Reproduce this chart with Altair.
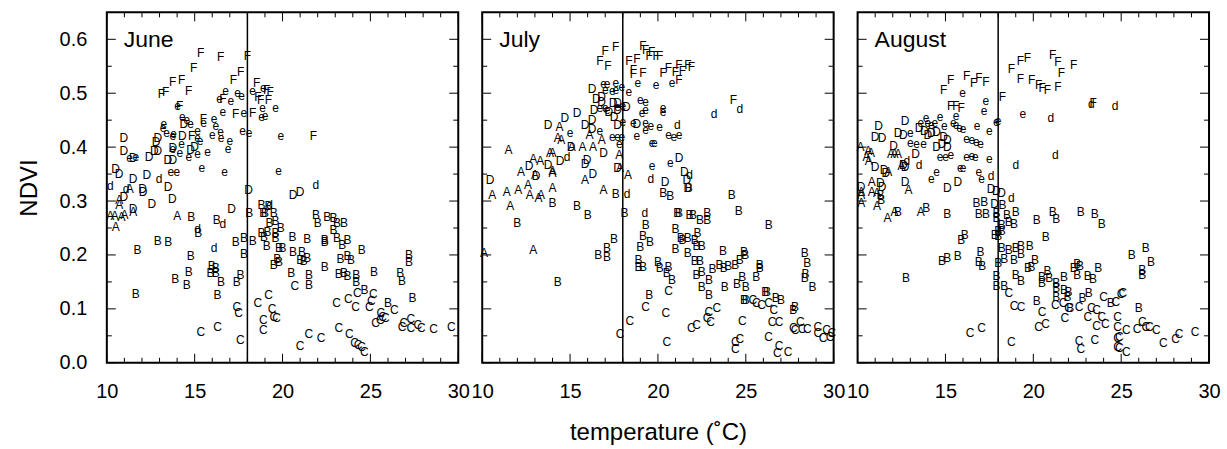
import altair as alt
import pandas as pd

FONT = "Liberation Sans"
TICK_LABELS_X = [10, 15, 20, 25, 30]
TICK_LABELS_Y = [0.0, 0.1, 0.2, 0.3, 0.4, 0.5, 0.6]
MONTHS = ["June", "July", "August"]
THRESHOLD = 18

# ---------------- June ----------------
JUNE_F = [(15.34,.574),(16.48,.567),(18.0,.569),(14.94,.546),(17.61,.539),(13.75,.52),(14.26,.524),(17.2,.524),
          (14.66,.504),(13.1,.498),(13.35,.502),(18.52,.519),(16.6,.489),(18.6,.493),(18.75,.487),(19.1,.506),
          (19.3,.502),(19.2,.487),(14.15,.476),(15.5,.452),(17.33,.461),(18.3,.463),(14.83,.42),(21.76,.42)]
JUNE_E = [(16.76,.504),(17.44,.5),(17.67,.494),(17.05,.485),(16.42,.489),(18.3,.504),(18.9,.509),(18.86,.472),
          (19.6,.472),(18.8,.456),(19.0,.457),(14.03,.476),(17.8,.463),(16.6,.465),(14.3,.456),(14.55,.45),
          (14.77,.443),(15.5,.444),(16.1,.452),(16.2,.439),(13.24,.443),(13.2,.435),(13.4,.426),(13.75,.42),
          (13.8,.424),(15.17,.43),(16.0,.422),(16.48,.428),(16.5,.417),(17.73,.43),(18.1,.426),(17.0,.411),
          (16.9,.396),(15.17,.417),(15.3,.411),(14.26,.406),(14.15,.389),(13.75,.396),(14.66,.381),(15.17,.387),
          (15.74,.391),(13.64,.354),(13.98,.354),(15.4,.361),(16.7,.354),(19.9,.42),(19.77,.356),(11.65,.381),
          (11.3,.38)]
JUNE_D = [(10.97,.417),(10.97,.393),(11.5,.38),(12.4,.381),(12.7,.393),(12.9,.393),(12.8,.409),(12.9,.417),
          (13.75,.398),(13.47,.376),(13.75,.376),(14.38,.443),(14.3,.42),(14.77,.394),(15.0,.4),(10.5,.359),
          (10.7,.35),(11.5,.34),(12.27,.348),(12.03,.323),(12.06,.317),(13.48,.326),(10.97,.307),(18.07,.32),
          (20.6,.311),(21.0,.317),(13.73,.304),(12.56,.294),(17.1,.285),(11.5,.285)]
JUNE_d = [(12.97,.341),(21.9,.33),(10.2,.328),(11.1,.322),(15.17,.248),(16.1,.213),(16.6,.257),(19.26,.293)]
JUNE_A = [(10.7,.302),(10.7,.293),(10.2,.272),(10.45,.272),(10.83,.271),(11.0,.274),(11.5,.28),(10.5,.252),
          (14.0,.272),(11.3,.322)]
JUNE_B = [(14.8,.27),(16.25,.265),(12.9,.226),(13.5,.224),(11.75,.209),(15.2,.241),(14.77,.198),(17.33,.224),
          (17.8,.231),(17.8,.202),(18.3,.226),(14.66,.168),(15.97,.18),(16.2,.176),(15.9,.167),(16.2,.167),
          (13.9,.156),(14.55,.144),(16.5,.15),(17.4,.15),(17.6,.163),(11.65,.128),(16.3,.126),(18.1,.278),
          (18.8,.293),(18.9,.278),(19.2,.29),(19.5,.278),(19.0,.278),(19.26,.259),(19.6,.263),(19.9,.25),
          (18.8,.24),(19.15,.243),(18.95,.233),(19.6,.24),(19.6,.231),(19.1,.217),(19.8,.213),(20.0,.213),
          (19.7,.193),(19.5,.181),(19.8,.187),(20.57,.233),(21.4,.23),(20.6,.206),(21.1,.206),(21.0,.191),
          (21.2,.189),(21.4,.194),(20.5,.167),(21.5,.163),(21.5,.144),(21.9,.274),(22.0,.259),(22.55,.27),
          (22.9,.269),(23.1,.259),(23.5,.259),(22.9,.246),(22.4,.228),(22.4,.224),(23.1,.231),(23.4,.219),
          (23.7,.228),(22.4,.178),(23.3,.193),(23.7,.198),(23.9,.191),(23.2,.165),(23.5,.167),(23.7,.161),
          (24.2,.163),(24.2,.15),(24.5,.209),(25.2,.169),(24.66,.135),(26.0,.111),(26.7,.167),(27.2,.2),
          (27.2,.187),(26.8,.152),(27.4,.12)]
JUNE_C = [(17.4,.104),(17.5,.093),(15.35,.057),(16.3,.067),(17.6,.043),(18.6,.111),(19.2,.126),(19.4,.1),
          (18.9,.08),(19.5,.085),(19.66,.083),(18.9,.061),(20.7,.143),(21.0,.031),(21.5,.054),(22.2,.046),
          (23.07,.111),(23.2,.065),(23.8,.054),(24.1,.037),(24.3,.033),(24.5,.03),(24.66,.02),(23.75,.119),
          (24.26,.13),(24.15,.104),(24.94,.104),(25.06,.115),(25.17,.128),(25.3,.074),(25.57,.08),(25.7,.085),
          (25.85,.083),(25.6,.093),(26.36,.098),(26.8,.067),(26.9,.074),(27.3,.065),(27.3,.081),(27.7,.07),
          (27.9,.065),(28.6,.063),(29.6,.067)]

# ---------------- July ----------------
JULY_F = [(17.0,.578),(17.6,.585),(16.7,.559),(17.16,.55),(19.15,.587),(19.3,.581),(19.65,.576),(19.5,.569),
          (19.9,.569),(20.1,.569),(18.35,.559),(18.8,.563),(18.6,.543),(18.6,.535),(19.15,.537),(20.3,.537),
          (20.6,.546),(21.0,.539),(21.2,.552),(21.4,.541),(21.7,.552),(21.9,.548),(21.2,.524),(24.3,.487)]
JULY_E = [(16.9,.517),(17.1,.517),(17.6,.519),(17.0,.506),(17.4,.504),(17.6,.506),(17.95,.511),(18.35,.502),
          (18.86,.519),(19.9,.515),(20.8,.519),(19.0,.487),(19.3,.483),(19.1,.463),(19.3,.469),(20.3,.472),
          (20.3,.465),(16.7,.472),(17.0,.472),(17.1,.469),(17.7,.474),(18.0,.476),(18.0,.446),(18.6,.444),
          (19.3,.444),(19.3,.431),(19.6,.439),(20.1,.437),(20.6,.422),(20.9,.419),(21.2,.422),(17.4,.419),
          (17.7,.419),(17.95,.419),(17.8,.406),(16.7,.43),(15.0,.426),(18.8,.42),(19.66,.407),(19.8,.407),
          (19.66,.365),(20.7,.37)]
JULY_D = [(16.25,.507),(16.5,.489),(16.8,.493),(16.8,.483),(17.2,.465),(17.45,.481),(17.7,.481),(17.7,.469),
          (18.2,.474),(16.36,.469),(16.25,.45),(17.5,.456),(17.7,.441),(18.8,.443),(15.4,.463),(14.7,.454),
          (13.75,.441),(15.85,.441),(16.25,.433),(16.9,.389),(15.85,.369),(15.97,.376),(14.43,.374),(12.67,.365),
          (13.75,.367),(13.07,.346),(16.3,.35),(17.7,.361),(21.2,.38),(21.5,.354),(20.4,.335),(10.45,.339),
          (15.06,.4),(21.65,.339),(21.7,.324)]
JULY_d = [(23.2,.461),(24.66,.47),(21.1,.441),(14.83,.381),(19.6,.341),(21.8,.348),(18.24,.313),(19.26,.278)]
JULY_A = [(11.5,.394),(14.4,.437),(14.3,.417),(14.5,.413),(13.86,.39),(14.0,.39),(15.1,.4),(15.7,.4),(16.3,.4),
          (16.8,.413),(16.1,.422),(12.9,.378),(13.3,.374),(14.0,.356),(14.0,.352),(12.2,.354),(13.0,.348),
          (15.85,.339),(17.8,.385),(17.84,.361),(18.3,.348),(10.57,.311),(11.4,.317),(12.05,.32),(12.6,.33),
          (12.7,.311),(13.35,.311),(14.0,.324),(16.9,.32),(13.2,.306),(11.6,.291),(12.9,.209),(10.1,.204)]
JULY_B = [(17.6,.313),(14.0,.296),(15.4,.291),(16.0,.274),(12.0,.259),(14.3,.15),(17.5,.23),(17.1,.213),
          (17.1,.196),(16.6,.2),(18.1,.278),(20.3,.315),(20.7,.309),(21.75,.324),(24.2,.311),(24.6,.281),
          (19.3,.256),(19.15,.235),(19.0,.215),(19.55,.224),(18.9,.191),(18.9,.178),(19.15,.178),(19.5,.126),
          (20.0,.187),(20.1,.176),(20.6,.178),(20.5,.167),(20.8,.154),(21.0,.248),(21.0,.211),(21.1,.278),
          (21.2,.278),(21.8,.274),(22.0,.274),(22.4,.265),(22.8,.278),(22.8,.265),(21.3,.231),(21.7,.231),
          (21.4,.228),(22.1,.228),(22.25,.24),(22.2,.217),(22.5,.217),(21.7,.204),(22.1,.189),(22.4,.189),
          (22.2,.163),(22.5,.168),(22.9,.154),(22.9,.126),(22.5,.141),(23.1,.174),(23.7,.207),(23.5,.181),
          (23.75,.176),(24.0,.18),(24.4,.181),(23.8,.141),(24.5,.146),(24.8,.159),(25.0,.141),(24.66,.191),
          (24.9,.206),(24.97,.2),(25.0,.117),(24.9,.117),(25.6,.159),(25.8,.181),(25.8,.176),(26.1,.131),
          (26.3,.256),(26.2,.131),(26.7,.12),(27.0,.117),(28.35,.204),(28.5,.185),(28.4,.165),(28.35,.157),
          (28.8,.141),(27.8,.104),(27.7,.098)]
JULY_C = [(17.84,.054),(18.4,.078),(19.3,.104),(20.45,.093),(20.5,.039),(20.6,.133),(21.9,.065),(22.2,.07),
          (22.9,.094),(22.8,.083),(23.0,.076),(23.35,.102),(24.4,.039),(24.4,.026),(24.66,.044),(24.8,.078),
          (25.4,.117),(25.6,.111),(25.9,.107),(26.3,.111),(26.6,.098),(26.5,.076),(26.9,.076),(26.3,.048),
          (26.9,.031),(26.8,.019),(27.4,.02),(27.7,.065),(27.8,.061),(28.1,.076),(28.2,.063),(28.5,.063),
          (29.1,.067),(29.1,.056),(29.6,.061),(29.4,.046),(29.8,.048),(29.9,.056)]

# ---------------- August ----------------
AUG_F = [(18.75,.544),(19.26,.559),(19.66,.565),(21.1,.57),(21.4,.557),(22.3,.552),(21.6,.537),(19.26,.526),
         (19.9,.524),(20.3,.515),(20.5,.509),(20.8,.506),(21.4,.511),(18.24,.493),(23.4,.481),(14.9,.506),
         (15.3,.524),(16.2,.531),(16.6,.519),(16.9,.529),(17.3,.52),(15.3,.476),(15.6,.476),(15.9,.472)]
AUG_E = [(15.97,.5),(17.3,.485),(17.2,.467),(19.4,.461),(17.9,.446),(17.5,.43),(16.8,.439),(15.6,.457),
         (14.7,.456),(13.9,.454),(13.6,.444),(14.0,.444),(14.2,.441),(14.4,.444),(14.94,.439),(15.45,.444),
         (15.6,.441),(15.8,.435),(16.0,.433),(16.2,.415),(16.5,.413),(16.76,.409),(17.0,.406),(13.0,.407),
         (13.35,.406),(13.75,.406),(14.7,.381),(15.0,.381),(15.3,.385),(16.2,.381),(16.5,.383),(16.7,.381),
         (17.5,.378),(15.85,.361),(16.0,.361),(16.9,.354),(17.05,.341),(14.5,.354),(14.2,.341),(18.0,.448),
         (13.0,.426)]
AUG_D = [(11.2,.439),(11.0,.419),(11.4,.417),(12.7,.448),(12.3,.426),(12.6,.422),(13.5,.435),(13.8,.43),
         (14.0,.422),(14.2,.426),(14.5,.428),(14.5,.4),(14.8,.406),(15.1,.4),(14.9,.419),(15.1,.413),(12.05,.402),
         (13.3,.387),(12.6,.367),(12.7,.363),(11.0,.363),(11.5,.357),(11.6,.352),(11.3,.333),(11.4,.326),
         (12.7,.335),(15.7,.335),(15.1,.324),(17.6,.322),(17.9,.319),(10.2,.326),(18.2,.315),(17.8,.294)]
AUG_d = [(21.0,.454),(21.25,.385),(19.0,.367),(17.6,.346),(13.5,.367),(12.8,.374),(24.66,.476),(23.3,.48),
         (18.75,.306)]
AUG_A = [(10.17,.4),(10.6,.393),(10.76,.389),(10.5,.381),(10.63,.374),(11.9,.387),(12.1,.387),(12.3,.387),
         (12.5,.365),(11.75,.354),(10.8,.335),(12.9,.32),(10.2,.317),(10.8,.317),(11.1,.315),(10.2,.311),
         (10.2,.296),(11.1,.291),(11.7,.269),(12.1,.28),(13.6,.28)]
AUG_B = [(11.3,.311),(11.35,.302),(12.3,.28),(13.9,.287),(15.1,.276),(16.76,.296),(17.2,.298),(16.9,.276),
         (17.3,.276),(18.24,.293),(17.9,.278),(17.9,.269),(18.5,.274),(18.6,.261),(18.2,.256),(18.9,.257),
         (18.2,.244),(18.0,.244),(17.8,.237),(18.0,.235),(19.0,.28),(20.2,.265),(21.1,.28),(21.3,.267),
         (22.7,.28),(23.5,.276),(23.9,.257),(20.7,.233),(15.9,.228),(16.1,.237),(18.2,.213),(18.6,.209),
         (19.0,.213),(19.3,.217),(19.8,.217),(18.35,.193),(18.9,.191),(19.3,.202),(18.0,.185),(20.1,.191),
         (19.7,.176),(19.9,.178),(17.0,.206),(16.9,.187),(17.1,.18),(15.7,.198),(14.8,.189),(15.1,.194),
         (12.75,.157),(17.9,.161),(17.9,.143),(18.35,.143),(19.0,.163),(19.3,.152),(20.5,.159),(20.5,.148),
         (20.8,.17),(20.9,.157),(21.3,.148),(21.3,.139),(21.75,.159),(21.75,.135),(22.0,.131),(21.95,.122),
         (22.3,.176),(22.5,.183),(22.65,.18),(22.5,.163),(23.1,.161),(23.4,.156),(23.7,.176),(23.15,.13),
         (20.2,.115),(21.3,.122),(22.1,.102),(22.8,.12),(24.4,.111),(25.6,.2),(26.4,.213),(26.7,.187),
         (26.2,.172),(26.2,.163),(26.0,.102)]
AUG_C = [(18.6,.13),(18.9,.106),(19.3,.104),(20.5,.094),(20.3,.067),(20.7,.072),(21.8,.083),(21.25,.107),
         (21.7,.111),(22.6,.104),(22.0,.102),(23.1,.085),(23.3,.102),(23.6,.098),(23.9,.085),(23.6,.069),
         (24.1,.072),(24.0,.122),(24.7,.113),(25.0,.128),(24.8,.085),(22.6,.041),(22.7,.026),(23.5,.043),
         (18.75,.039),(16.4,.056),(17.05,.065),(24.8,.067),(24.9,.048),(24.9,.028),(25.3,.061),(25.1,.13),
         (25.9,.063),(26.2,.076),(26.4,.067),(26.6,.067),(27.0,.061),(24.8,.046),(24.8,.03),(25.3,.02),
         (27.4,.037),(28.1,.044),(28.3,.054),(29.2,.057)]

PANELS = [
    ("June", {"F": JUNE_F, "e": JUNE_E, "D": JUNE_D, "d": JUNE_d, "A": JUNE_A, "B": JUNE_B, "C": JUNE_C}),
    ("July", {"F": JULY_F, "e": JULY_E, "D": JULY_D, "d": JULY_d, "A": JULY_A, "B": JULY_B, "C": JULY_C}),
    ("August", {"F": AUG_F, "e": AUG_E, "D": AUG_D, "d": AUG_d, "A": AUG_A, "B": AUG_B, "C": AUG_C}),
]

W, H = 352, 351
MAJ, MIN = 9, 5
xscale = alt.Scale(domain=[10, 30], nice=False, zero=False)
yscale = alt.Scale(domain=[0, 0.65], nice=False, zero=False)

x_major = pd.DataFrame({"temp": [10, 15, 20, 25, 30]})
x_minor = pd.DataFrame({"temp": [v for v in range(10, 31) if v % 5 != 0]})
y_major = pd.DataFrame({"ndvi": [0.0, 0.1, 0.2, 0.3, 0.4, 0.5, 0.6]})
y_minor = pd.DataFrame({"ndvi": [0.05, 0.15, 0.25, 0.35, 0.45, 0.55]})


def make_axes(i):
    xaxis = alt.Axis(values=TICK_LABELS_X, format="d", labelFlush=False, labelOverlap=False,
                     ticks=False, tickSize=0, domain=False, grid=False,
                     labelFontSize=20, labelPadding=19, labelFont=FONT, labelColor="black",
                     title="temperature (˚C)" if i == 1 else "",
                     titleFontSize=24, titleFont=FONT, titleFontWeight="normal",
                     titleColor="black", titlePadding=19)
    if i == 0:
        yaxis = alt.Axis(values=TICK_LABELS_Y, format=".1f", ticks=False, tickSize=0,
                         domain=False, grid=False, labelFontSize=20, labelPadding=20,
                         labelFont=FONT, labelColor="black", title="NDVI", titleFontSize=24,
                         titleFont=FONT, titleFontWeight="normal", titleColor="black",
                         titlePadding=18)
    else:
        yaxis = None
    return xaxis, yaxis


def tick_layers(xaxis, yaxis):
    layers = []
    for df, L in ((x_major, MAJ), (x_minor, MIN)):
        for y0, y1 in ((H, H - L), (0, L)):
            layers.append(alt.Chart(df).mark_rule(color="black", strokeWidth=1).encode(
                x=alt.X("temp:Q", scale=xscale, axis=xaxis),
                y=alt.value(y0), y2=alt.value(y1)))
    for df, L in ((y_major, MAJ), (y_minor, MIN)):
        for x0, x1 in ((0, L), (W, W - L)):
            layers.append(alt.Chart(df).mark_rule(color="black", strokeWidth=1).encode(
                y=alt.Y("ndvi:Q", scale=yscale, axis=yaxis),
                x=alt.value(x0), x2=alt.value(x1)))
    return layers


charts = []
for i, (month, groups) in enumerate(PANELS):
    rows = []
    for code, pts in groups.items():
        for t, n in pts:
            rows.append({"code": code, "temp": t, "ndvi": n})
    df = pd.DataFrame(rows)
    xaxis, yaxis = make_axes(i)

    pts = alt.Chart(df).mark_text(font=FONT, fontSize=12, color="black",
                                  align="center", baseline="middle").encode(
        x=alt.X("temp:Q", scale=xscale, axis=xaxis),
        y=alt.Y("ndvi:Q", scale=yscale, axis=yaxis),
        text="code:N")

    vline = alt.Chart(pd.DataFrame({"temp": [THRESHOLD]})).mark_rule(
        color="black", strokeWidth=1.5).encode(x=alt.X("temp:Q", scale=xscale, axis=xaxis))

    label = alt.Chart(pd.DataFrame({"m": [month]})).mark_text(
        font=FONT, fontSize=23, color="black", align="left", baseline="alphabetic").encode(
        text="m:N", x=alt.value(17), y=alt.value(35))

    panel = alt.layer(pts, vline, label, *tick_layers(xaxis, yaxis)).properties(width=W, height=H)
    charts.append(panel)

chart = alt.hconcat(*charts, spacing=24, bounds="flush").properties(
    padding={"left": 16, "top": 10, "right": 5, "bottom": 5},
    background="white"
).configure_view(stroke="black", strokeWidth=2)

chart.save("out.html", embed_options={"renderer": "svg", "actions": False})
